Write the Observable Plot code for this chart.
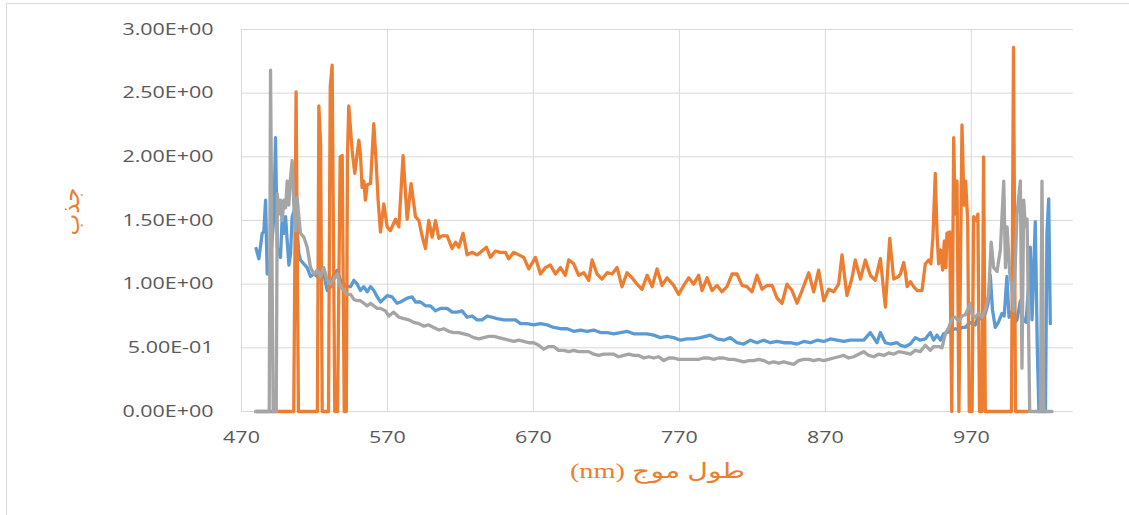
<!DOCTYPE html>
<html>
<head>
<meta charset="utf-8">
<script src="https://cdn.jsdelivr.net/npm/d3@7"></script>
<script src="https://cdn.jsdelivr.net/npm/@observablehq/plot@0.6"></script>
<style>
  html, body { margin: 0; padding: 0; background: #fff; }
  #wrap { position: relative; width: 1129px; height: 515px; overflow: hidden; }
  #border { position: absolute; left: 6px; top: 3px; width: 1200px; height: 600px; border: 1.5px solid #d9d9d9; pointer-events: none; }
</style>
</head>
<body>
<div id="wrap"><div id="chart"></div><div id="border"></div></div>
<script>
const xTicks = [470, 570, 670, 770, 870, 970];
const yTicks = [0, 0.5, 1, 1.5, 2, 2.5, 3];
const yTickLabels = ["0.00E+00", "5.00E-01", "1.00E+00", "1.50E+00", "2.00E+00", "2.50E+00", "3.00E+00"];
const xTitle = "طول موج (nm)";
const yTitle = "جذب";

// [wavelength nm, absorbance]
const blueSeries = [
[480.0,1.28],[481.9,1.20],[484.2,1.40],[485.3,1.41],[486.5,1.66],[487.6,1.08],[489.9,1.19],[492.2,1.53],[493.3,2.15],[494.5,1.29],[496.7,1.21],[497.9,1.53],[499.0,1.40],[500.2,1.53],[501.3,1.34],[502.5,1.15],[503.6,1.24],[504.7,1.53],[507.0,1.61],[509.3,1.24],[510.4,1.19],[512.7,1.16],[515.0,1.13],[517.3,1.06],[519.6,1.08],[521.9,1.06],[524.1,1.11],[526.4,1.08],[528.7,0.95],[531.0,0.98],[533.3,1.08],[535.6,1.11],[537.8,1.03],[540.1,1.00],[542.4,0.98],[544.7,0.98],[547.0,1.03],[549.3,1.00],[551.5,0.95],[553.8,0.98],[556.1,0.94],[558.4,0.98],[560.7,0.95],[563.0,0.90],[565.2,0.86],
[569.8,0.91],[573.2,0.90],[576.6,0.85],[578.9,0.86],[583.5,0.89],[586.9,0.90],[589.2,0.86],[592.6,0.86],[596.0,0.83],[599.4,0.83],[602.9,0.79],[606.3,0.81],[610.9,0.81],[614.3,0.78],[617.7,0.78],[621.1,0.79],[624.6,0.74],[628.0,0.75],[631.4,0.72],[634.8,0.72],[638.3,0.75],[641.7,0.74],[645.1,0.73],[649.7,0.72],[654.2,0.72],[657.7,0.72],[661.1,0.69],[665.7,0.69],[670.2,0.68],[674.8,0.69],[679.4,0.68],[683.9,0.66],[688.5,0.65],[693.1,0.65],[697.6,0.63],[702.2,0.64],[706.8,0.63],[711.3,0.64],[715.9,0.62],[720.5,0.62],[725.0,0.61],[729.6,0.62],[734.1,0.63],[738.7,0.61],[743.3,0.61],[747.9,0.61],[752.4,0.60],[757.0,0.58],[761.5,0.59],[766.1,0.58],[770.7,0.56],[775.2,0.57],[779.8,0.57],[784.4,0.58],[787.8,0.59],[791.2,0.60],[795.8,0.57],[800.4,0.56],[804.9,0.58],[809.5,0.54],[814.1,0.53],[818.6,0.56],[823.2,0.54],[827.8,0.56],[832.3,0.54],[836.9,0.55],[841.5,0.54],[846.0,0.54],[850.6,0.53],[855.2,0.55],[859.7,0.54],[864.3,0.56],[868.9,0.55],[873.4,0.57],[878.0,0.56],[882.6,0.55],[887.1,0.56],[891.7,0.56],[896.3,0.56],[900.8,0.62],[905.4,0.54],[907.7,0.62],[911.1,0.54],[914.5,0.53],[919.1,0.54],
[921.4,0.52],[924.8,0.51],[928.2,0.53],[931.6,0.58],[935.0,0.56],[938.5,0.57],[941.9,0.62],[944.2,0.56],[946.5,0.60],[948.8,0.56],[951.0,0.61],[953.5,0.62],[956.8,0.64],[959.0,0.65],[961.5,0.64],[963.6,0.66],[965.9,0.66],[968.2,0.69],[970.5,0.70],[972.7,0.68],[975.0,0.76],[977.3,0.72],[979.6,0.77],[981.5,0.85],[983.0,1.07],[984.5,0.80],[986.4,0.66],[988.5,0.70],[991.0,0.77],[992.5,0.75],[994.4,1.06],[995.8,0.74],[997.5,0.78],[999.0,0.69],[1001.3,0.72],[1003.6,0.87],[1005.5,0.72],[1007.5,0.70],[1009.3,1.00],[1010.4,1.29],[1011.6,0.72],[1013.8,1.49],[1015.2,0.50],[1016.3,0],[1020.8,0],[1021.8,1.40],[1023.0,1.67],[1024.1,0.69]
];

const orangeSeries = [
[480,0],[505.8,0],[507.4,2.51],[509.0,0],[522.0,0],[523.0,2.40],[524.2,2.10],[525.3,0],[529.6,0],[530.8,2.55],[532.1,2.72],[533.9,0],[535.8,0],[537.6,2.00],[539.0,2.01],[540.4,0],[541.8,0],[542.6,2.02],[543.5,2.40],[545.8,2.05],[547.6,1.87],[549.0,2.00],[550.4,2.13],[551.5,2.02],[552.6,1.76],[553.8,1.81],[554.9,1.66],[556.1,1.78],[558.4,1.79],[560.6,2.26],[562.2,1.97],[563.6,1.66],[565.2,1.41],[567.5,1.63],[569.8,1.45],[572.0,1.42],[575.5,1.51],[577.8,1.45],[580.7,2.01],[583.5,1.51],[586.2,1.79],[589.2,1.53],[591.5,1.50],[593.7,1.38],[596.0,1.28],[598.3,1.50],[600.6,1.37],[602.9,1.50],[605.2,1.36],[607.4,1.38],[610.9,1.38],[614.3,1.28],[616.6,1.33],[618.9,1.29],[621.8,1.40],[624.6,1.23],[628.0,1.25],[631.4,1.23],[633.7,1.25],[637.8,1.29],[640.5,1.21],[644.0,1.26],[647.4,1.25],[650.8,1.25],[653.1,1.20],[656.5,1.25],[660.0,1.23],[663.4,1.21],[666.8,1.12],[671.4,1.21],[674.8,1.08],[678.2,1.13],[681.6,1.15],[685.1,1.08],[688.5,1.13],[691.9,1.07],[694.2,1.19],[697.6,1.16],[701.0,1.07],[704.5,1.09],[707.9,1.03],[710.2,1.19],[713.6,1.08],[717.0,1.04],[720.5,1.09],[723.9,1.08],[727.3,1.13],[730.7,0.98],[734.1,1.09],[737.6,1.05],[741.0,1.00],[744.4,0.96],[747.9,1.07],[751.3,0.98],[754.7,1.12],[758.1,0.99],[761.5,1.05],[766.1,0.99],[769.5,0.92],[773.0,0.99],[776.4,1.05],[779.8,1.00],[783.2,1.07],[785.5,0.95],[789.0,1.05],[792.4,0.95],[795.8,0.99],[799.2,0.94],[802.6,0.98],[806.1,1.08],[809.5,1.08],[812.9,0.99],[816.3,0.98],[819.8,0.94],[823.2,1.07],[826.6,0.96],[830.0,0.99],[833.5,0.99],[836.9,0.89],[840.3,0.85],[843.7,1.00],[847.2,0.95],[850.6,0.85],[854.0,0.95],[858.6,1.09],[862.0,0.94],[865.4,1.11],[868.9,0.87],[872.3,0.96],[875.7,0.94],[879.1,1.00],[881.4,1.23],[884.8,0.91],[888.3,1.05],[890.5,1.19],[894.0,1.04],[897.4,1.19],[900.8,1.07],[904.2,1.03],[907.7,1.20],[911.1,0.82],[914.1,1.36],[916.8,1.04],[920.2,1.06],
[921.4,1.08],[923.7,1.17],[925.0,1.08],[926.0,0.98],[928.2,1.02],[930.5,0.98],[932.8,0.95],[936.2,0.95],[938.5,1.16],[940.8,1.19],[942.3,1.16],[943.7,1.37],[945.3,1.87],[946.5,1.40],[947.6,1.16],[948.8,1.27],[950.4,1.11],[951.5,1.34],[952.6,1.13],[953.3,1.40],[955.2,1.41],[956.6,0],[957.9,2.15],[958.9,1.55],[960.2,1.81],[961.5,0],[963.6,2.25],[965.0,1.62],[966.1,1.81],[967.5,1.50],[968.6,0],[970.5,0],[971.6,1.53],[973.5,1.50],[974.5,1.55],[975.6,0],[977.3,0],[978.4,2.00],[979.6,0],[997.5,0],[998.9,2.86],[1000.3,0],[1008.5,0]
];

const graySeries = [
[479.6,0],[489.0,0],[489.9,2.68],[491.7,0],[493.8,0],[494.5,1.71],[495.6,1.55],[496.7,1.66],[497.9,1.50],[499.0,1.66],[500.2,1.60],[501.3,1.81],[502.4,1.62],[503.6,1.84],[504.7,1.97],[505.9,1.61],[507.0,1.42],[508.1,1.68],[509.3,1.53],[510.4,1.40],[512.7,1.37],[515.0,1.29],[517.3,1.13],[519.6,1.08],[521.9,1.11],[524.1,1.06],[526.4,1.13],[528.7,1.03],[531.0,1.00],[533.3,1.04],[535.6,1.08],[537.8,0.98],[540.1,0.95],[542.4,0.92],[544.7,0.92],[547.0,0.88],[549.3,0.87],[551.5,0.87],[553.8,0.85],[556.1,0.83],[558.4,0.85],[560.7,0.83],[563.0,0.81],[565.2,0.81],[568.6,0.79],[570.9,0.75],[574.3,0.78],[577.8,0.74],[581.2,0.73],[584.6,0.72],[588.0,0.70],[591.5,0.69],[594.9,0.67],[598.3,0.68],[601.7,0.66],[605.2,0.64],[608.6,0.65],[612.0,0.63],[615.4,0.62],[618.9,0.62],[622.3,0.61],[625.7,0.60],[629.1,0.58],[632.6,0.57],[636.0,0.58],[639.4,0.59],[642.8,0.59],[646.2,0.58],[649.7,0.57],[653.1,0.56],[656.5,0.55],[660.0,0.56],[663.4,0.55],[666.8,0.54],[670.2,0.54],[673.6,0.52],[677.1,0.49],[680.5,0.51],[683.9,0.51],[687.3,0.48],[690.8,0.48],[694.2,0.47],[697.6,0.48],[701.0,0.47],[704.5,0.47],[707.9,0.47],[711.3,0.45],[714.7,0.44],[718.2,0.45],[721.6,0.45],[725.0,0.45],[728.4,0.43],[731.9,0.44],[735.3,0.45],[738.7,0.44],[742.1,0.44],[745.6,0.42],[749.0,0.43],[752.4,0.42],[755.8,0.43],[759.3,0.40],[762.7,0.42],[766.1,0.42],[769.5,0.41],[773.0,0.41],[776.4,0.41],[779.8,0.41],[783.2,0.41],[786.7,0.42],[790.1,0.42],[793.5,0.41],[796.9,0.42],[800.4,0.42],[803.8,0.41],[807.2,0.41],[810.6,0.40],[814.1,0.39],[817.5,0.40],[820.9,0.40],[824.3,0.41],[827.8,0.40],[831.2,0.38],[834.6,0.39],[838.0,0.38],[841.5,0.39],[844.9,0.38],[848.3,0.37],[851.7,0.40],[855.2,0.41],[858.6,0.41],[862.0,0.40],[865.4,0.41],[868.9,0.40],[872.3,0.41],[875.7,0.42],[879.1,0.43],[882.6,0.44],[886.0,0.42],[889.4,0.43],[892.8,0.45],[896.3,0.47],[899.7,0.44],[903.1,0.43],[906.5,0.45],[910.0,0.44],[913.4,0.46],[916.8,0.45],[920.2,0.47],
[924.8,0.46],[928.2,0.45],[931.6,0.48],[935.0,0.47],[938.5,0.52],[941.9,0.48],[944.2,0.51],[947.6,0.51],[949.9,0.50],[952.2,0.61],[954.5,0.66],[956.8,0.73],[959.0,0.74],[961.3,0.71],[963.6,0.75],[965.9,0.76],[968.2,0.82],[969.3,0.85],[970.5,0.76],[972.7,0.74],[975.0,0.77],[977.3,0.74],[979.6,0.80],[981.9,0.92],[983.6,1.33],[985.3,1.13],[987.6,1.10],[989.9,1.27],[992.2,1.81],[993.4,1.13],[994.5,1.45],[996.2,1.10],[997.9,0.95],[999.0,0.79],[1001.3,1.55],[1003.6,1.81],[1004.7,0.34],[1005.9,1.66],[1007.0,1.45],[1008.2,1.51],[1010.0,0],[1017.3,0],[1018.4,1.81],[1019.6,0],[1025.3,0]
];

const seriesColors = { blue: "#5B9BD5", orange: "#ED7D31", gray: "#A5A5A5" };
const tickColor = "#595959";
const gridColor = "#D9D9D9";
const titleColor = "#ED7D31";

const lineOpts = (color) => ({ x: d => d[0], y: d => d[1], stroke: color, strokeWidth: 3.3, strokeLinejoin: "round", strokeLinecap: "round" });

const chart = Plot.plot({
  width: 1129,
  height: 515,
  marginLeft: 241,
  marginRight: 56,
  marginTop: 29,
  marginBottom: 104,
  style: { background: "transparent", fontFamily: "'Open Sans', sans-serif" },
  x: { domain: [470, 1040] },
  y: { domain: [0, 3] },
  marks: [
    Plot.ruleY(yTicks, { stroke: gridColor, strokeWidth: 1 }),
    Plot.ruleX(xTicks, { stroke: gridColor, strokeWidth: 1 }),
    Plot.line(blueSeries, lineOpts(seriesColors.blue)),
    Plot.line(orangeSeries, lineOpts(seriesColors.orange)),
    Plot.line(graySeries, lineOpts(seriesColors.gray)),
    Plot.axisY({ ticks: yTicks, tickSize: 0, tickPadding: 28, tickFormat: d => yTickLabels[yTicks.indexOf(d)], fontSize: 16.5, fill: tickColor, label: null }),
    Plot.axisX({ ticks: xTicks, tickSize: 0, tickPadding: 20, tickFormat: d => String(d), fontSize: 16.5, fill: tickColor, label: null }),
    Plot.text([xTitle], { frameAnchor: "bottom", dy: 66, fill: titleColor, fontSize: 21, fontFamily: "'Liberation Serif', 'DejaVu Sans', serif" }),
    Plot.text([yTitle], { frameAnchor: "left", textAnchor: "middle", dx: -170, dy: -9, rotate: -90, fill: titleColor, fontSize: 23, fontFamily: "'DejaVu Sans', sans-serif" })
  ]
});

// horizontally stretch text like the reference
function stretch(t, k) {
  const tr = t.getAttribute("transform");
  if (tr) t.setAttribute("transform", tr + ` scale(${k},1)`);
  else {
    const x = t.getAttribute("x") || 0, y = t.getAttribute("y") || 0;
    t.removeAttribute("x"); t.removeAttribute("y");
    t.setAttribute("transform", `translate(${x},${y}) scale(${k},1)`);
  }
}
chart.querySelectorAll('g[aria-label="y-axis tick label"] text, g[aria-label="x-axis tick label"] text').forEach(t => stretch(t, 1.3));
chart.querySelectorAll("text").forEach(t => {
  if (t.textContent === xTitle) { t.setAttribute("direction", "rtl"); t.style.unicodeBidi = "embed"; stretch(t, 1.35); }
});

document.getElementById("chart").appendChild(chart);
</script>
</body>
</html>
